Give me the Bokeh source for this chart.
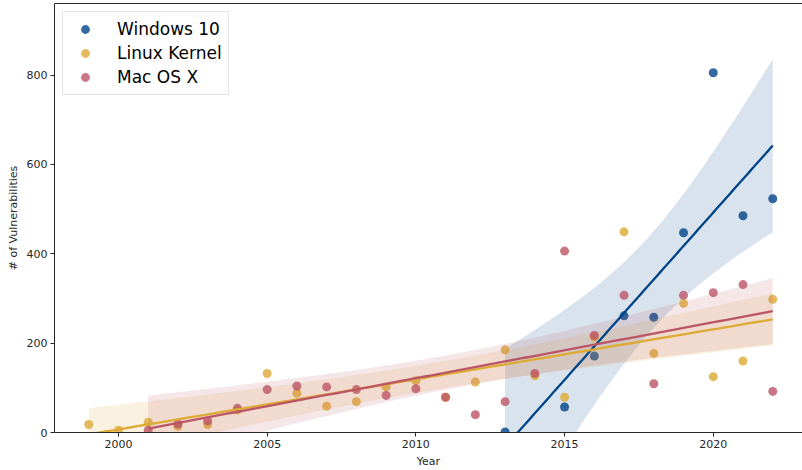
import numpy as np
from bokeh.plotting import figure
from bokeh.models import Range1d, LinearAxis, FixedTicker, Legend, LegendItem
from bokeh.embed import file_html
from bokeh.resources import INLINE

# ---- data ----
names = ["Windows 10", "Linux Kernel", "Mac OS X"]
colors = ["#004488", "#DDAA33", "#BB5566"]

years_win = [2013, 2015, 2016, 2017, 2018, 2019, 2020, 2021, 2022]
vulns_win = [1, 57, 171, 261, 258, 447, 805, 485, 523]

years_linux = list(range(1999, 2023))
vulns_linux = [18, 5, 23, 14, 18, 50, 132, 88, 59, 69, 102, 116, 79, 113,
               185, 127, 79, 213, 449, 177, 289, 125, 160, 298]

years_mac = list(range(2001, 2023))
vulns_mac = [5, 19, 26, 54, 96, 104, 102, 96, 83, 98, 79, 40, 69, 132,
             406, 217, 307, 109, 307, 313, 331, 92]

x_ticks = [2000, 2005, 2010, 2015, 2020]
y_ticks = [0, 200, 400, 600, 800]

series = [(years_win, vulns_win), (years_linux, vulns_linux), (years_mac, vulns_mac)]


def t975(dof):
    try:
        from scipy import stats
        return float(stats.t.ppf(0.975, dof))
    except Exception:
        table = {7: 2.365, 20: 2.086, 22: 2.074}
        return table.get(dof, 2.0)


def fit(xs, ys, n=120):
    x = np.asarray(xs, float)
    y = np.asarray(ys, float)
    b, a = np.polyfit(x, y, 1)
    grid = np.linspace(x.min(), x.max(), n)
    yhat = a + b * grid
    resid = y - (a + b * x)
    dof = len(x) - 2
    s = np.sqrt(resid @ resid / dof)
    sxx = ((x - x.mean()) ** 2).sum()
    se = s * np.sqrt(1.0 / len(x) + (grid - x.mean()) ** 2 / sxx)
    t = t975(dof)
    return grid, yhat, yhat - t * se, yhat + t * se


FONT = "DejaVu Sans"
INK = "#262626"

p = figure(width=802, height=470, output_backend="svg", toolbar_location=None,
           x_range=Range1d(1997.85, 2023.0), y_range=Range1d(0, 960),
           min_border_left=54, min_border_right=0, min_border_top=3,
           min_border_bottom=37)
p.outline_line_color = None
p.xgrid.grid_line_color = None
p.ygrid.grid_line_color = None
p.background_fill_color = "white"

scatter_rs = []
fits = []
for (xs, ys), c in zip(series, colors):
    r = p.scatter(xs, ys, size=9, fill_color=c, fill_alpha=0.8, line_color=None)
    scatter_rs.append(r)
    grid, yhat, lo, hi = fit(xs, ys)
    p.varea(x=grid, y1=lo, y2=hi, fill_color=c, fill_alpha=0.15)
    fits.append((grid, yhat))

for (grid, yhat), c in zip(fits, colors):
    p.line(grid, yhat, line_color=c, line_width=2.3)

# axes
for ax in (p.xaxis[0], p.yaxis[0]):
    ax.axis_line_color = INK
    ax.axis_line_width = 1
    ax.major_tick_line_color = INK
    ax.major_tick_out = 4
    ax.major_tick_in = 0
    ax.minor_tick_line_color = None
    ax.major_label_text_font = FONT
    ax.major_label_text_font_size = "11px"
    ax.major_label_text_color = INK
    ax.axis_label_text_font = FONT
    ax.axis_label_text_font_size = "11px"
    ax.axis_label_text_font_style = "normal"
    ax.axis_label_text_color = INK
    ax.major_label_standoff = 3
    ax.axis_label_standoff = 4

p.xaxis.ticker = FixedTicker(ticks=x_ticks)
p.yaxis.ticker = FixedTicker(ticks=y_ticks)
p.xaxis.axis_label = "Year"
p.yaxis.axis_label = "# of Vulnerabilities"

top = LinearAxis(ticker=FixedTicker(ticks=[]), axis_line_color=INK,
                 major_tick_out=0, major_tick_in=0, minor_tick_out=0,
                 minor_tick_in=0, major_label_standoff=0,
                 major_label_text_font_size="0px")
p.add_layout(top, "above")

legend = Legend(items=[LegendItem(label=n, renderers=[r]) for n, r in zip(names, scatter_rs)],
                location="top_left")
legend.label_text_font = FONT
legend.label_text_font_size = "17px"
legend.label_text_color = "#000000"
legend.padding = 6
legend.spacing = 2
legend.glyph_width = 32
legend.glyph_height = 22
legend.label_height = 22
legend.label_standoff = 16
legend.margin = 8
legend.border_line_color = "#cccccc"
legend.border_line_width = 1
legend.background_fill_alpha = 0.8
p.add_layout(legend)

open("out.html", "w").write(file_html(p, INLINE))
